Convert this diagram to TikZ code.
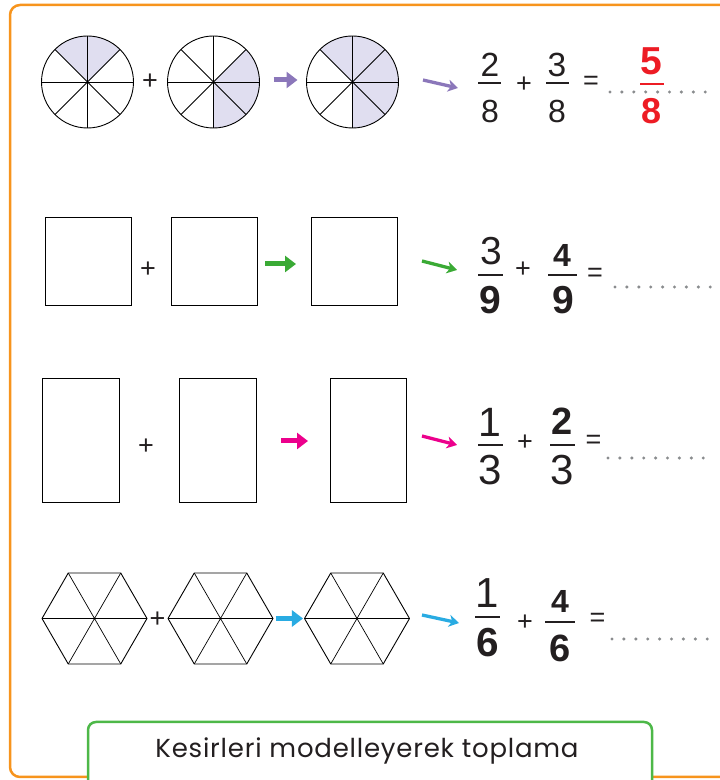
\documentclass[tikz,border=0pt]{standalone}
\usepackage{fontspec}
\setmainfont{Liberation Sans}
\newfontfamily\titlefont[LetterSpace=3]{Poppins}
\usetikzlibrary{arrows.meta,shapes.geometric}
\definecolor{frameorange}{HTML}{F7941D}
\definecolor{framegreen}{HTML}{4DB848}
\definecolor{apurple}{HTML}{8B77BA}
\definecolor{agreen}{HTML}{3AAA35}
\definecolor{amagenta}{HTML}{EC008C}
\definecolor{ablue}{HTML}{29ABE2}
\definecolor{ared}{HTML}{ED1C24}
\definecolor{lav}{HTML}{E0DEF0}
\definecolor{dotgray}{HTML}{8A8C8E}
\definecolor{digitc}{HTML}{231F20}
\newcommand\mydots[2]{% x0, y
  \foreach \i in {0,...,8} \fill[dotgray] (#1+\i*11.9,#2) circle (1.7pt);
}
\begin{document}
\begin{tikzpicture}[x=1pt,y=1pt,
  shapeline/.style={draw=black, line width=0.9pt},
  boxnode/.style={draw=black, line width=0.9pt, inner sep=0pt, outer sep=0pt},
  bigarrow/.style={line width=5pt, -{Triangle[length=11pt,width=16pt]}},
  smallarrow/.style={line width=3.3pt, -{Stealth[length=10pt,width=12pt,inset=3pt]}},
  dg/.style={font=\fontsize{#1}{#1}\selectfont, inner sep=0pt, anchor=base, text=digitc},
  bdg/.style={font=\fontsize{#1}{#1}\selectfont\bfseries, inner sep=0pt, anchor=base, text=digitc},
  op/.style={font=\fontsize{27}{27}\selectfont, inner sep=0pt, text=digitc},
  fbar/.style={line width=1.6pt, draw=digitc},
]
\useasboundingbox (0,0) rectangle (720,780);
% outer frame
\draw[frameorange, line width=2.5pt, rounded corners=10pt] (10,3) rectangle (760,775);

% ---------- Row 1: circles ----------
\foreach \n/\x/\s/\e in {c1/87.5/45/135, c2/213.5/-90/45, c3/352.5/-90/135}{
  \node[circle, minimum size=92pt, inner sep=0pt, outer sep=0pt] (\n) at (\x,698) {};
  \fill[lav] (\n.center) -- ++(\s:46) arc[start angle=\s, end angle=\e, radius=46] -- cycle;
  \foreach \a/\b in {0/180,45/225,90/270,135/315}
    \draw[shapeline] (\n.\a) -- (\n.\b);
  \draw[shapeline] (\n.center) circle (46);
}
\node[op] (p1) at (150,698) {+};
\draw[bigarrow, apurple, shorten <=14pt, shorten >=9pt] ([yshift=2pt]c2.east) -- ([yshift=2pt]c3.west);
\coordinate (s1a) at (423,700);
\coordinate (s1b) at (458,692);
\draw[smallarrow, apurple] (s1a) -- (s1b);
\mydots{610}{688}
\node[dg=33.5] (fan) at (490,703) {2};
\draw[fbar] (478,697) -- (501,697);
\node[dg=32] (fad) at (490,657) {8};
\node[op] (pa) at (524,695) {+};
\node[dg=33.5] (fbn) at (557,703) {3};
\draw[fbar] (546,697) -- (569,697);
\node[dg=32] (fbd) at (557,657) {8};
\node[op] (ea) at (591,697) {=};
\node[bdg=39, text=ared] (ran) at (651.5,705) {5};
\draw[fbar, draw=ared] (640,696) -- (664,696);
\node[bdg=36, text=ared] (rad) at (651.5,656) {8};

% ---------- Row 2: squares ----------
\node[boxnode, minimum width=86pt, minimum height=88pt] (q1) at (88,519) {};
\node[boxnode, minimum width=86pt, minimum height=88pt] (q2) at (214,519) {};
\node[boxnode, minimum width=86pt, minimum height=88pt] (q3) at (354,519) {};
\node[op] (p2) at (148,510) {+};
\draw[bigarrow, agreen, shorten <=8pt, shorten >=15pt] ([yshift=-3pt]q2.east) -- ([yshift=-3pt]q3.west);
\coordinate (s2a) at (422,519);
\coordinate (s2b) at (457,510);
\draw[smallarrow, agreen] (s2a) -- (s2b);
\mydots{615}{493}
\node[dg=39] (fcn) at (491,515) {3};
\draw[fbar] (478,505) -- (503,505);
\node[bdg=39] (fcd) at (490.5,466) {9};
\node[op] (pc) at (523,510) {+};
\node[bdg=32] (fdn) at (562,513) {4};
\draw[fbar] (548,505) -- (577,505);
\node[bdg=39] (fdd) at (563,466) {9};
\node[op] (ec) at (595,505) {=};

% ---------- Row 3: rectangles ----------
\node[boxnode, minimum width=77pt, minimum height=124pt] (r1) at (80.5,340) {};
\node[boxnode, minimum width=77pt, minimum height=124pt] (r2) at (217.5,340) {};
\node[boxnode, minimum width=76pt, minimum height=124pt] (r3) at (368,340) {};
\node[op] (p3) at (146,333) {+};
\draw[bigarrow, amagenta, shorten <=25pt, shorten >=22pt] ([yshift=-1pt]r2.east) -- ([yshift=-1pt]r3.west);
\coordinate (s3a) at (422,344);
\coordinate (s3b) at (457,335);
\draw[smallarrow, amagenta] (s3a) -- (s3b);
\mydots{608}{322}
\node[dg=41] (fen) at (490,343) {1};
\draw[fbar] (478,335) -- (503,335);
\node[dg=42] (fed) at (490.5,295) {3};
\node[op] (pe) at (525,337) {+};
\node[bdg=38] (ffn) at (562,345) {2};
\draw[fbar] (550,335) -- (575,335);
\node[dg=42] (ffd) at (562.5,295) {3};
\node[op] (ee) at (593.5,338) {=};

% ---------- Row 4: hexagons ----------
\foreach \n/\x in {h1/94.5, h2/220.5, h3/357}{
  \node[regular polygon, regular polygon sides=6, minimum size=105pt, inner sep=0pt, outer sep=0pt] (\n) at (\x,161.5) {};
  \draw[shapeline, line join=round] (\n.center) +(0:52.5) -- +(60:52.5) -- +(120:52.5) -- +(180:52.5) -- +(240:52.5) -- +(300:52.5) -- cycle;
  \draw[line width=0.7pt] (\n.center) +(0:52.5) -- +(180:52.5) +(60:52.5) -- +(240:52.5) +(120:52.5) -- +(300:52.5);
}
\node[op] (p4) at (157.5,160) {+};
\draw[bigarrow, ablue, shorten <=2.5pt, shorten >=1.5pt] (h2.east) -- (h3.west);
\coordinate (s4a) at (422,165);
\coordinate (s4b) at (459,157);
\draw[smallarrow, ablue] (s4a) -- (s4b);
\mydots{612}{141}
\node[dg=42] (fgn) at (487.5,172) {1};
\draw[fbar] (475,163) -- (500,163);
\node[bdg=40.5] (fgd) at (487.5,123) {6};
\node[op] (pg) at (525,157) {+};
\node[bdg=32] (fhn) at (560,167) {4};
\draw[fbar] (545,158) -- (575,158);
\node[bdg=38] (fhd) at (560,118) {6};
\node[op] (eg) at (597.5,160) {=};

% ---------- title box ----------
\draw[framegreen, fill=white, line width=2.5pt, rounded corners=8pt] (88,-10) rectangle (652,58);
\node[font=\titlefont\fontsize{26}{26}\selectfont, text=digitc, inner sep=0pt, anchor=base] (title) at (367,23) {Kesirleri\hspace{0.3em}modelleyerek\hspace{0.3em}toplama};
\end{tikzpicture}
\end{document}
